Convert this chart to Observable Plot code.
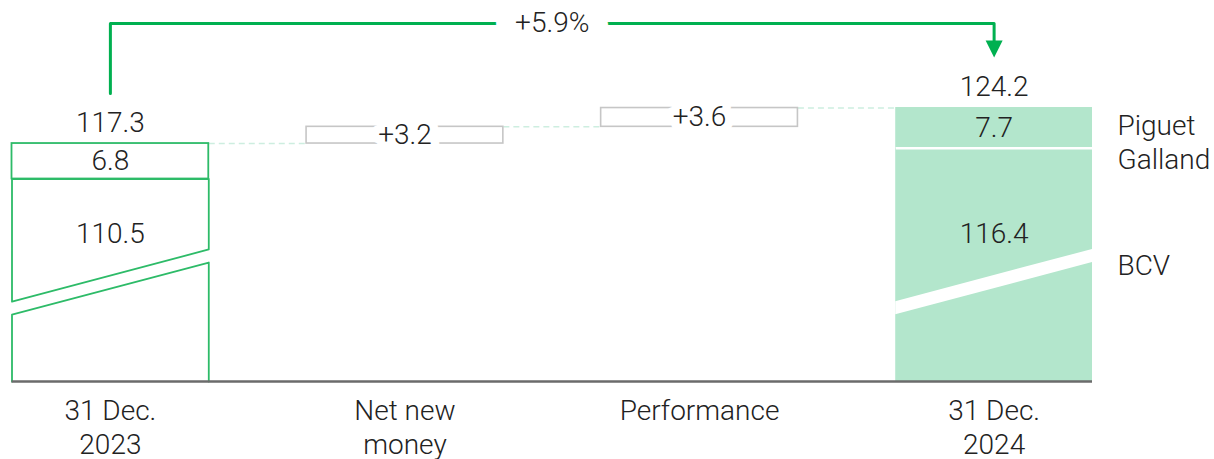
<!DOCTYPE html>
<html><head><meta charset="utf-8">
<script src="https://cdn.jsdelivr.net/npm/d3@7"></script>
<script src="https://cdn.jsdelivr.net/npm/@observablehq/plot@0.6"></script>
<style>
body{margin:0;background:#fff;}
#chart svg{display:block;}
</style></head><body><div id="chart"></div>
<script>
// ---- data ----
const categories = ["31 Dec.\n2023", "Net new\nmoney", "Performance", "31 Dec.\n2024"];
const bcvValues = [110.5, null, null, 116.4];
const piguetValues = [6.8, null, null, 7.7];
const totalValues = [117.3, null, null, 124.2];
const flowValues = [null, 3.2, 3.6, null];
const flowLabels = [null, "+3.2", "+3.6", null];
const changeLabel = "+5.9%";
const seriesLabels = ["Piguet\nGalland", "BCV"];

// ---- layout constants (broken axis) ----
const axisStart = 71.7;      // value at the (broken) baseline
const axisTop = 140.3;       // value at the top of the frame
const half = 0.334;          // half bar width, in category units
const breakLeft = 87.0, breakRight = 97.0, breakGap = 2.5;
const arrowGap = 9.6;
const bcvLabelAt = 100;
const green = "#00b050", outline = "#2dbb68", mint = "#b3e6cc", grey = "#c6c6c6", ink = "#222";

// running levels
const starts = [], ends = [];
let level = totalValues[0];
categories.forEach((c, i) => {
  if (flowValues[i] != null) { starts[i] = level; level = +(level + flowValues[i]).toFixed(1); ends[i] = level; }
  else { starts[i] = null; ends[i] = totalValues[i]; }
});

const idx = d3.range(categories.length);
const totalIdx = idx.filter(i => totalValues[i] != null);
const flowIdx = idx.filter(i => flowValues[i] != null);

// connectors between consecutive elements
const connectors = idx.slice(0, -1).map(i => ({x1: i + half, x2: i + 1 - half, y: ends[i]}));

// outlined first bar pieces
const first = totalIdx[0], last = totalIdx[totalIdx.length - 1];
const outlinePolys = [
  [{x: first - half, y: bcvValues[first]}, {x: first + half, y: bcvValues[first]}, {x: first + half, y: breakRight}, {x: first - half, y: breakLeft}, {x: first - half, y: bcvValues[first]}].map(d => ({...d, z: "upper"})),
  [{x: first - half, y: axisStart}, {x: first - half, y: breakLeft - breakGap}, {x: first + half, y: breakRight - breakGap}, {x: first + half, y: axisStart}].map(d => ({...d, z: "lower"}))
].flat();

// filled last bar segments
const filledSegs = [
  {x1: last - half, x2: last + half, y1: axisStart, y2: bcvValues[last]},
  {x1: last - half, x2: last + half, y1: bcvValues[last], y2: totalValues[last]}
];
const breakArea = [
  {x: last - half, y1: breakLeft - breakGap, y2: breakLeft},
  {x: last + half, y1: breakRight - breakGap, y2: breakRight}
];

const arrowPath = [
  {x: first, y: totalValues[first] + arrowGap},
  {x: first, y: axisTop},
  {x: last, y: axisTop},
  {x: last, y: totalValues[last] + arrowGap + 2}
];

const triangle = {draw(ctx) { ctx.moveTo(-8.5, -8.5); ctx.lineTo(8.5, -8.5); ctx.lineTo(0, 8.5); ctx.closePath(); }};

const chart = Plot.plot({
  width: 1214,
  height: 459,
  marginLeft: 11.5,
  marginRight: 122,
  marginTop: 23,
  marginBottom: 78,
  style: {fontFamily: "Roboto, sans-serif", fontSize: "28px", fontWeight: 300, color: ink, background: "white"},
  x: {domain: [-half, categories.length - 1 + half], axis: null},
  y: {domain: [axisStart, axisTop], axis: null},
  marks: [
    Plot.link(connectors, {x1: "x1", x2: "x2", y1: "y", y2: "y", stroke: "#cdeee0", strokeWidth: 1.5, strokeDasharray: "6,4"}),
    // filled 2024 bar
    Plot.rect(filledSegs, {x1: "x1", x2: "x2", y1: "y1", y2: "y2", fill: mint}),
    Plot.link([{x1: last - half, x2: last + half, y: bcvValues[last]}], {x1: "x1", x2: "x2", y1: "y", y2: "y", stroke: "white", strokeWidth: 2.5}),
    Plot.areaY(breakArea, {x: "x", y1: "y1", y2: "y2", fill: "white", curve: "linear"}),
    // outlined 2023 bar
    Plot.rect([{x1: first - half, x2: first + half, y1: bcvValues[first], y2: totalValues[first]}], {x1: "x1", x2: "x2", y1: "y1", y2: "y2", fill: "none", stroke: outline, strokeWidth: 1.8}),
    Plot.line(outlinePolys, {x: "x", y: "y", z: "z", stroke: outline, strokeWidth: 1.8, curve: "linear"}),
    // flow boxes
    Plot.rect(flowIdx, {x1: i => i - half, x2: i => i + half, y1: i => starts[i], y2: i => ends[i], fill: "white", stroke: grey, strokeWidth: 1.6}),
    Plot.text(flowIdx, {x: i => i, y: i => (starts[i] + ends[i]) / 2, text: i => flowLabels[i], stroke: "white", strokeWidth: 17, fill: ink, strokeLinejoin: "round"}),
    // baseline
    Plot.ruleY([axisStart], {stroke: "#6b6b6b", strokeWidth: 2.5}),
    // change arrow
    Plot.line(arrowPath, {x: "x", y: "y", stroke: green, strokeWidth: 3, curve: "linear"}),
    Plot.dot([{x: last, y: totalValues[last] + arrowGap}], {x: "x", y: "y", symbol: triangle, fill: green, stroke: "none", r: 8, dy: -8.5}),
    Plot.text([changeLabel], {x: (first + last) / 2, y: axisTop, text: d => d, fill: ink, stroke: "white", strokeWidth: 40, strokeLinejoin: "round"}),
    // totals
    Plot.text(totalIdx, {x: i => i, y: i => totalValues[i], text: i => totalValues[i].toFixed(1), lineAnchor: "bottom", dy: -12, fill: ink}),
    // segment labels
    Plot.text(totalIdx, {x: i => i, y: i => totalValues[i] - piguetValues[i] / 2, text: i => piguetValues[i].toFixed(1), fill: ink}),
    Plot.text(totalIdx, {x: i => i, y: bcvLabelAt, text: i => bcvValues[i].toFixed(1), fill: ink}),
    // series labels
    Plot.text([seriesLabels[0]], {x: last + half, y: totalValues[last], text: d => d, textAnchor: "start", lineAnchor: "top", dx: 25, dy: 4, lineHeight: 1.2, fill: ink}),
    Plot.text([seriesLabels[1]], {x: last + half, y: 93.9, text: d => d, textAnchor: "start", dx: 25, fill: ink}),
    // category axis
    Plot.axisX(idx, {y: axisStart, tickSize: 0, tickPadding: 0, tickFormat: i => categories[i], lineAnchor: "top", dy: 15, lineHeight: 1.2, fontSize: 28, fill: ink})
  ]
});
document.getElementById("chart").appendChild(chart);
</script></body></html>
